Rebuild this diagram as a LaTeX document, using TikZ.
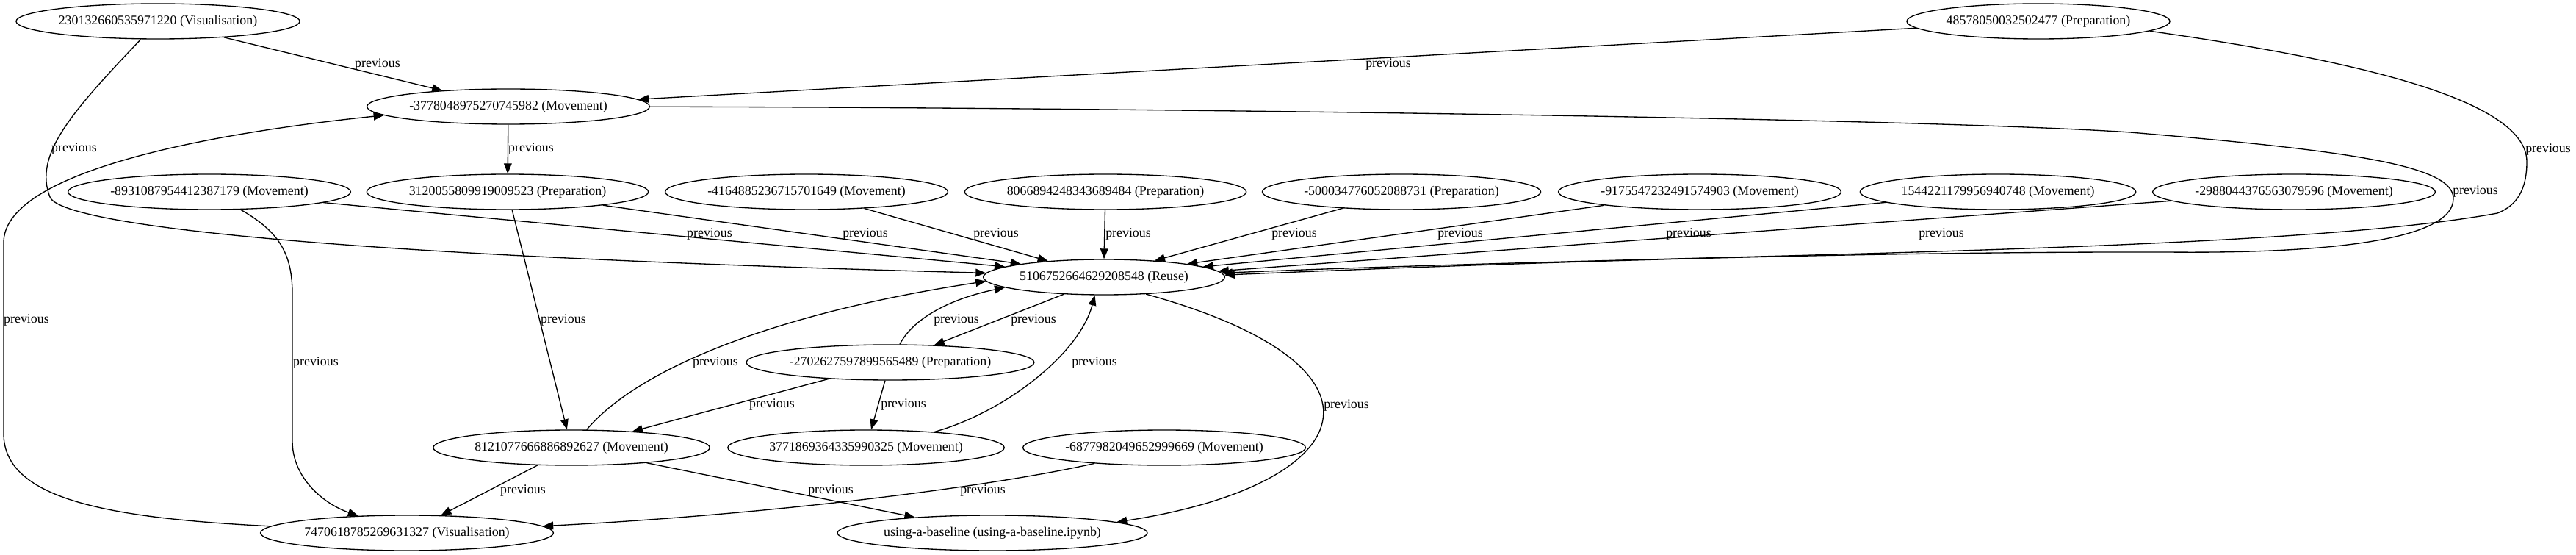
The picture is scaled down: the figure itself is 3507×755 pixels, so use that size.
\documentclass[tikz,border=0pt]{standalone}
\usepackage{fontspec}
\setmainfont{Liberation Serif}
\usetikzlibrary{arrows.meta,shapes.geometric}

\begin{document}
\begin{tikzpicture}[x=0.75pt,y=-0.75pt,
    font=\fontsize{13.4pt}{15pt}\selectfont,
    cell/.style={draw,ellipse,line width=1pt,minimum height=36pt,
      inner xsep=1pt,inner ysep=0pt},
    link/.style={line width=1pt,-{Triangle[length=10.5pt,width=8pt]}},
    lbl/.style={inner sep=0pt}]
    \useasboundingbox (0,0) rectangle (3507,755);

    \node[cell] (vis2301) at (215,29) {230132660535971220 (Visualisation)};
    \node[cell] (prep4857) at (2775,29) {48578050032502477 (Preparation)};
    \node[cell] (mov3778) at (692,145) {-3778048975270745982 (Movement)};
    \foreach \name/\xpos/\txt in {
        mov8931/285/{-8931087954412387179 (Movement)},
        prep3120/691/{3120055809919009523 (Preparation)},
        mov4164/1098/{-4164885236715701649 (Movement)},
        prep8066/1505/{8066894248343689484 (Preparation)},
        prep5000/1908/{-500034776052088731 (Preparation)},
        mov9175/2314/{-9175547232491574903 (Movement)},
        mov1544/2720/{1544221179956940748 (Movement)},
        mov2988/3123/{-2988044376563079596 (Movement)}}
      \node[cell] (\name) at (\xpos,261) {\txt};
    \node[cell] (reuse) at (1503,377) {5106752664629208548 (Reuse)};
    \node[cell] (prep2702) at (1212,493) {-2702627597899565489 (Preparation)};
    \node[cell] (mov8121) at (778,609) {8121077666886892627 (Movement)};
    \node[cell] (mov3771) at (1179,609) {3771869364335990325 (Movement)};
    \node[cell] (mov6877) at (1585,609) {-6877982049652999669 (Movement)};
    \node[cell] (vis7470) at (554,725) {7470618785269631327 (Visualisation)};
    \node[cell] (baseline) at (1351,725) {using-a-baseline (using-a-baseline.ipynb)};

    \draw[link] (vis2301) -- (mov3778)
      node[lbl] (prev1) at (514,87) {previous};
    \draw[link] (prep4857) -- (mov3778)
      node[lbl] (prev2) at (1890,87) {previous};
    \draw[link] (mov3778) -- (prep3120)
      node[lbl] (prev3) at (723,202) {previous};
    \draw[link] (vis2301) .. controls (100,150) and (45,210) .. (68,268)
      .. controls (80,300) and (350,345) .. (reuse.178)
      node[lbl] (prev4) at (101,202) {previous};
    \draw[link] (vis7470) .. controls (150,705) and (5,680) .. (5,590)
      -- (5,330) .. controls (5,240) and (250,185) .. (mov3778.184)
      node[lbl] (prev5) at (36,435) {previous};
    \draw[link] (mov8931) .. controls (380,315) and (398,345) .. (398,400)
      -- (398,600) .. controls (398,650) and (440,685) .. (vis7470)
      node[lbl] (prev6) at (430,493) {previous};
    \draw[link] (mov3778) .. controls (1500,146) and (2600,160) .. (2900,180)
      .. controls (3200,205) and (3340,225) .. (3340,270)
      .. controls (3340,330) and (3150,345) .. (2950,343)
      .. controls (2500,342) and (2000,360) .. (reuse.1)
      node[lbl] (prev7) at (3370,260) {previous};
    \draw[link] (prep4857.-5) .. controls (3230,85) and (3440,140) .. (3440,220)
      .. controls (3440,260) and (3425,280) .. (3400,290)
      .. controls (3100,345) and (2300,345) .. (reuse.2)
      node[lbl] (prev8) at (3469,203) {previous};
    \foreach \src/\ang/\lx in {mov8931/174.5/966, prep3120/171/1178,
        mov4164/164/1356, prep8066/90/1536, prep5000/18/1762,
        mov9175/9/1988, mov1544/6/2299, mov2988/3/2643}
      \draw[link] (\src) -- (reuse.\ang)
        node[lbl] (prev\src) at (\lx,318) {previous};
    \draw[link] (prep3120) -- (mov8121)
      node[lbl] (prev9) at (767,435) {previous};
    \draw[link] (mov8121) .. controls (870,500) and (1060,425) .. (reuse.182)
      node[lbl] (prev10) at (974,493) {previous};
    \draw[link] (prep2702) -- (mov8121)
      node[lbl] (prev11) at (1051,550) {previous};
    \draw[link] (prep2702) -- (mov3771)
      node[lbl] (prev12) at (1230,550) {previous};
    \draw[link] (prep2702) .. controls (1245,430) and (1300,405) .. (reuse.186)
      node[lbl] (prev13) at (1302,435) {previous};
    \draw[link] (reuse.203) -- (prep2702)
      node[lbl] (prev14) at (1407,435) {previous};
    \draw[link] (mov3771.13) .. controls (1370,560) and (1470,480) .. (reuse.243)
      node[lbl] (prev15) at (1490,493) {previous};
    \draw[link] (reuse.338) .. controls (1920,500) and (1850,660) .. (baseline.5)
      node[lbl] (prev16) at (1833,551) {previous};
    \draw[link] (mov8121) -- (vis7470)
      node[lbl] (prev17) at (712,667) {previous};
    \draw[link] (mov8121) -- (baseline)
      node[lbl] (prev18) at (1131,667) {previous};
    \draw[link] (mov6877) .. controls (1350,662) and (1050,700) .. (vis7470)
      node[lbl] (prev19) at (1338,667) {previous};
  \end{tikzpicture}
\end{document}
